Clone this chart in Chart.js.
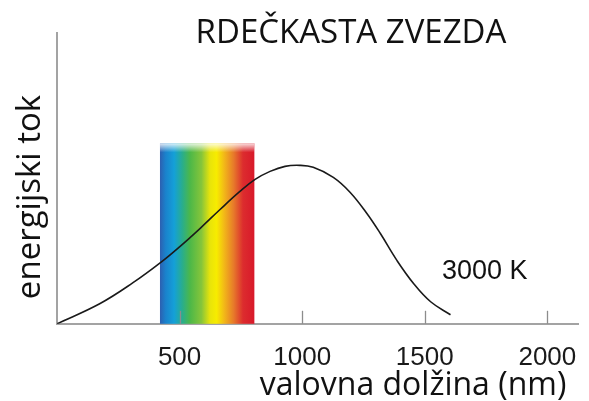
<!DOCTYPE html>
<html>
<head>
<meta charset="utf-8">
<script src="https://cdn.jsdelivr.net/npm/chart.js@4/dist/chart.umd.min.js"></script>
<style>
  html, body { margin: 0; padding: 0; background: #fff; }
</style>
</head>
<body>
<canvas id="chart" width="589" height="401"></canvas>
<script>
// values (flux in arbitrary units)
const chartTitle = "RDEČKASTA ZVEZDA";
const xAxisTitle = "valovna dolžina (nm)";
const yAxisTitle = "energijski tok";
const curveLabel = "3000 K";
const wavelengths = [0, 174, 310, 422, 501, 583, 665, 746, 808, 869, 930, 990, 1045, 1127, 1196, 1264, 1319, 1387, 1455, 1524, 1605];
const flux = [0, 20, 41, 61, 77, 95, 114, 132, 144, 152, 157, 158, 156, 146, 131, 110, 90, 63, 40, 22, 9];
const xTickValues = [500, 1000, 1500, 2000];
const visibleRange = [420, 805];
const visibleTop = 180;

const axisGray = "#a3a3a3";

// rainbow block behind the curve
const spectrumBand = {
  id: "spectrumBand",
  beforeDatasetsDraw(chart) {
    const { ctx, scales: { x, y } } = chart;
    const left = x.getPixelForValue(visibleRange[0]);
    const right = x.getPixelForValue(visibleRange[1]);
    const top = y.getPixelForValue(visibleTop);
    const bottom = y.getPixelForValue(0);
    const g = ctx.createLinearGradient(left, 0, right, 0);
    g.addColorStop(0.0, "#2d5fb0");
    g.addColorStop(0.06, "#1a82cc");
    g.addColorStop(0.15, "#14a0d8");
    g.addColorStop(0.24, "#2aae8a");
    g.addColorStop(0.32, "#4db848");
    g.addColorStop(0.44, "#86c53a");
    g.addColorStop(0.53, "#e8e40a");
    g.addColorStop(0.6, "#f7ec00");
    g.addColorStop(0.68, "#f2b818");
    g.addColorStop(0.78, "#e77a2a");
    g.addColorStop(0.88, "#dc2c2e");
    g.addColorStop(1.0, "#d8192a");
    ctx.save();
    ctx.fillStyle = g;
    ctx.fillRect(left, top, right - left, bottom - top);
    // soft faded top edge
    const fade = ctx.createLinearGradient(0, top, 0, top + 9);
    fade.addColorStop(0, "rgba(255,255,255,0.85)");
    fade.addColorStop(1, "rgba(255,255,255,0)");
    ctx.fillStyle = fade;
    ctx.fillRect(left, top, right - left, 9);
    ctx.restore();
  }
};

// short tick marks pointing up from the x axis
const upTicks = {
  id: "upTicks",
  beforeDatasetsDraw(chart) {
    const { ctx, scales: { x }, chartArea } = chart;
    ctx.save();
    ctx.strokeStyle = "#8c8c8c";
    ctx.lineWidth = 1.3;
    xTickValues.forEach(v => {
      const px = Math.round(x.getPixelForValue(v)) + 0.5;
      ctx.beginPath();
      ctx.moveTo(px, chartArea.bottom);
      ctx.lineTo(px, chartArea.bottom - 13);
      ctx.stroke();
    });
    ctx.restore();
  }
};

const labels = {
  id: "labels",
  afterDraw(chart) {
    const { ctx } = chart;
    ctx.save();
    ctx.fillStyle = "#111";
    ctx.textBaseline = "alphabetic";

    ctx.font = "33px 'Open Sans'";
    ctx.textAlign = "center";
    ctx.fillText(chartTitle, 351, 43);

    ctx.font = "32px 'Open Sans'";
    ctx.fillText(xAxisTitle, 413, 395);

    ctx.save();
    ctx.translate(40, 197);
    ctx.rotate(-Math.PI / 2);
    ctx.font = "33px 'Open Sans'";
    ctx.fillText(yAxisTitle, 0, 0);
    ctx.restore();

    ctx.font = "27px 'Liberation Sans'";
    ctx.textAlign = "left";
    ctx.fillText(curveLabel, 442, 279);
    ctx.restore();
  }
};

new Chart(document.getElementById("chart"), {
  type: "line",
  data: {
    datasets: [{
      data: wavelengths.map((w, i) => ({ x: w, y: flux[i] })),
      borderColor: "#1a1a1a",
      borderWidth: 1.6,
      pointRadius: 0,
      tension: 0.4,
      fill: false
    }]
  },
  options: {
    responsive: false,
    animation: false,
    layout: { padding: { left: 49, right: 11, top: 33, bottom: 18 } },
    plugins: {
      legend: { display: false },
      tooltip: { enabled: false },
      title: { display: false }
    },
    scales: {
      x: {
        type: "linear",
        min: 0,
        max: 2125,
        afterBuildTicks: scale => { scale.ticks = xTickValues.map(v => ({ value: v })); },
        grid: { display: false },
        border: { color: axisGray, width: 2 },
        ticks: {
          font: { family: "Liberation Sans", size: 26 },
          color: "#1a1a1a",
          padding: 10,
          callback: v => String(v)
        }
      },
      y: {
        min: 0,
        max: 290,
        grid: { display: false },
        border: { color: axisGray, width: 2 },
        ticks: { display: false }
      }
    }
  },
  plugins: [spectrumBand, upTicks, labels]
});
</script>
</body>
</html>
